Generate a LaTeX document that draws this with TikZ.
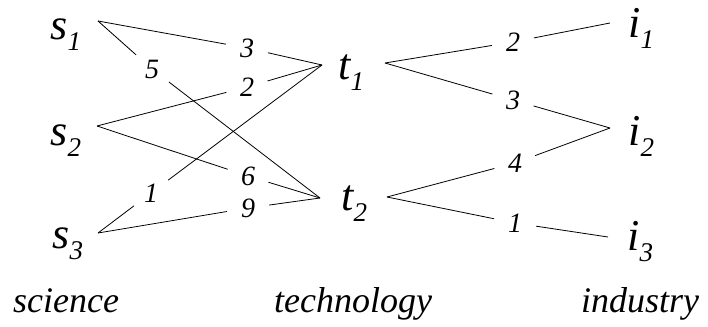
\documentclass[tikz,border=0pt]{standalone}
\usepackage{fontspec}
\setmainfont{Liberation Serif}
\newfontfamily\tms{Liberation Serif}
\usetikzlibrary{positioning}
\newcommand{\nd}[2]{#1\raisebox{-11pt}{\fontsize{27}{27}\selectfont #2}}

\begin{document}
\begin{tikzpicture}[x=1pt, y=-1pt, line width=0.8pt,
    vtx/.style={inner sep=0pt, anchor=base west, font=\tms\fontsize{44}{44}\selectfont\itshape},
    wt/.style={circle, inner sep=0pt, minimum size=42pt, font=\tms\fontsize{28}{28}\selectfont\itshape},
    cat/.style={anchor=base, font=\tms\fontsize{36}{36}\selectfont\itshape}]
  \useasboundingbox (0,0) rectangle (708,326);

  \node[vtx] (s1) at (50,40) {\nd{s}{1}};
  \node[vtx] (s2) at (50,145) {\nd{s}{2}};
  \node[vtx] (s3) at (52,248) {\nd{s}{3}};
  \node[vtx] (t1) at (338,80) {\nd{t}{1}};
  \node[vtx] (t2) at (341,210) {\nd{t}{2}};
  \node[vtx] (i1) at (628,38) {\nd{i}{1}};
  \node[vtx] (i2) at (628,145) {\nd{i}{2}};
  \node[vtx] (i3) at (627,250) {\nd{i}{3}};

  \coordinate (s1o) at (98,21);
  \coordinate (s2o) at (97,126);
  \coordinate (s3o) at (98,233);
  \coordinate (t1i) at (322,65);
  \coordinate (t1o) at (385,63);
  \coordinate (t2i) at (320,198);
  \coordinate (t2o) at (387,197);
  \coordinate (i1i) at (610,23);
  \coordinate (i2i) at (610,128);
  \coordinate (i3i) at (608,237);

  \node[wt] (a3) at (247,48) {3};
  \node[wt] (a5) at (152,69) {5};
  \node[wt] (a2) at (247,87) {2};
  \node[wt] (a6) at (248,176) {6};
  \node[wt] (a1) at (151,193) {1};
  \node[wt] (a9) at (248,208) {9};
  \node[wt] (b2) at (513,42) {2};
  \node[wt] (b3) at (513,100) {3};
  \node[wt] (b4) at (515,163) {4};
  \node[wt] (b1) at (515,223) {1};

  \draw (s1o) -- (a3) (a3) -- (t1i);
  \draw (s1o) -- (a5) (a5) -- (t2i);
  \draw (s2o) -- (a2) (a2) -- (t1i);
  \draw (s2o) -- (a6) (a6) -- (t2i);
  \draw (s3o) -- (a1) (a1) -- (t1i);
  \draw (s3o) -- (a9) (a9) -- (t2i);
  \draw (t1o) -- (b2) (b2) -- (i1i);
  \draw (t1o) -- (b3) (b3) -- (i2i);
  \draw (t2o) -- (b4) (b4) -- (i2i);
  \draw (t2o) -- (b1) (b1) -- (i3i);

  \node[cat] (sci) at (66,312) {science};
  \node[cat] (tec) at (353,312) {technology};
  \node[cat] (ind) at (640,312) {industry};
\end{tikzpicture}
\end{document}
